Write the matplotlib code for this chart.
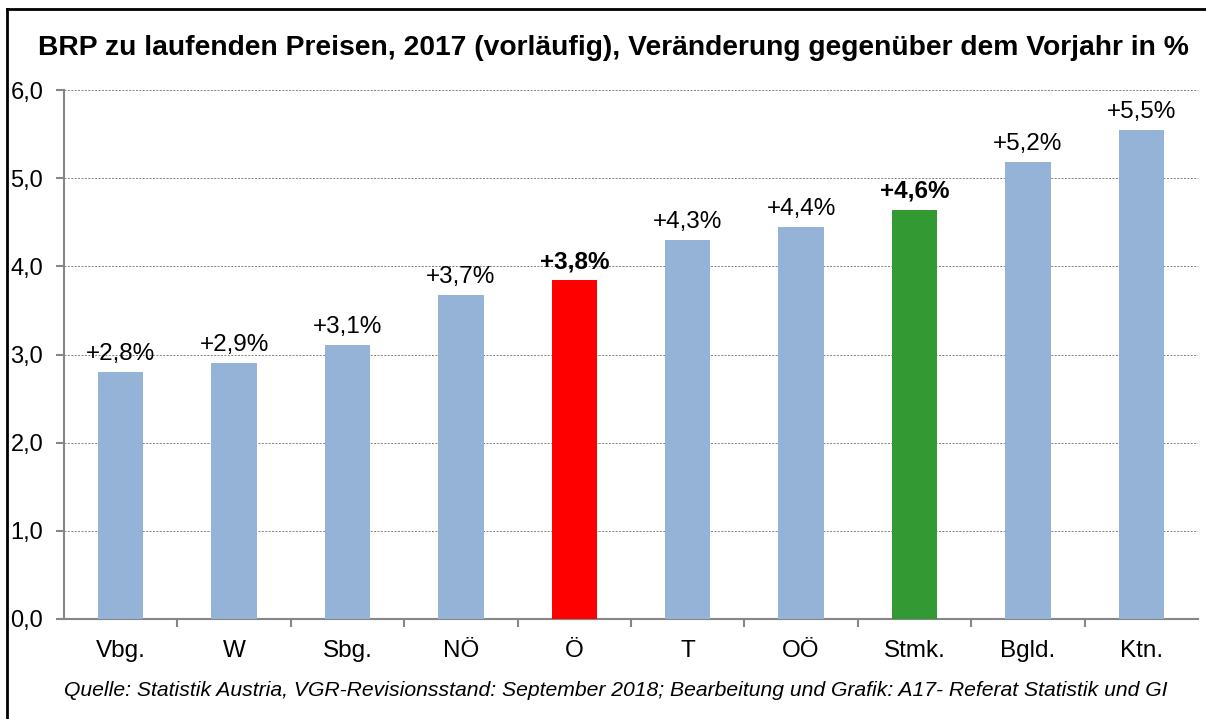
import matplotlib.pyplot as plt
from matplotlib.lines import Line2D

plt.rcParams['font.family'] = ['Liberation Sans', 'DejaVu Sans']

regions = ['Vbg.', 'W', 'Sbg.', 'NÖ', 'Ö', 'T', 'OÖ', 'Stmk.', 'Bgld.', 'Ktn.']
values = [2.80, 2.90, 3.11, 3.67, 3.84, 4.30, 4.45, 4.64, 5.18, 5.55]
labels = ['+2,8%', '+2,9%', '+3,1%', '+3,7%', '+3,8%', '+4,3%', '+4,4%', '+4,6%', '+5,2%', '+5,5%']
yticks = [0, 1, 2, 3, 4, 5, 6]
ytick_labels = ['0,0', '1,0', '2,0', '3,0', '4,0', '5,0', '6,0']

blue = '#95B3D7'
colors = [blue] * len(regions)
colors[4] = '#FF0000'
colors[7] = '#339933'
bold = {4, 7}

fig = plt.figure(figsize=(12.06, 7.19), dpi=100)
ax = fig.add_axes([64 / 1206, 1 - 619 / 719, 1134 / 1206, 529 / 719])

x = list(range(len(regions)))
ax.bar(x, values, width=0.4, color=colors, zorder=3)

for i, (v, lab) in enumerate(zip(values, labels)):
    ax.annotate(lab, (i, v), xytext=(0, 5), textcoords='offset points',
                ha='center', va='bottom', fontsize=17.5,
                fontweight='bold' if i in bold else 'normal')

ax.set_xlim(-0.5, len(regions) - 0.5)
ax.set_ylim(0, 6)
ax.set_yticks(yticks)
ax.set_yticklabels(ytick_labels, fontsize=17)
ax.yaxis.grid(True, linestyle=(0, (2, 1.5)), color='#808080', linewidth=0.7, zorder=0)

# category separators as ticks
ax.set_xticks([i + 0.5 for i in range(len(regions) - 1)], minor=False)
ax.set_xticklabels([])
ax.set_xticks(x, minor=True)
ax.set_xticklabels(regions, minor=True, fontsize=17.5)
ax.tick_params(axis='x', which='minor', length=0, pad=15)
ax.tick_params(axis='x', which='major', length=6, width=1.5, color='#868686', direction='out')
ax.tick_params(axis='y', length=6, width=1.5, color='#868686', direction='out', pad=9)

for s in ['top', 'right']:
    ax.spines[s].set_visible(False)
for s in ['left', 'bottom']:
    ax.spines[s].set_color('#868686')
    ax.spines[s].set_linewidth(1.5)

fig.text(613 / 1206, 1 - 48 / 719,
         'BRP zu laufenden Preisen, 2017 (vorläufig), Veränderung gegenüber dem Vorjahr in %',
         ha='center', va='center', fontsize=20.3, fontweight='bold')
fig.text(616 / 1206, 1 - 691 / 719,
         'Quelle: Statistik Austria, VGR-Revisionsstand: September 2018; Bearbeitung und Grafik: A17- Referat Statistik und GI',
         ha='center', va='center', fontsize=15.2, style='italic')

# outer frame (top and left edges visible)
fig.add_artist(Line2D([7 / 1206, 7 / 1206], [0, 1 - 9 / 719], transform=fig.transFigure, color='black', linewidth=2))
fig.add_artist(Line2D([7 / 1206, 1], [1 - 9 / 719, 1 - 9 / 719], transform=fig.transFigure, color='black', linewidth=2))

fig.savefig('out.png', dpi=100)
